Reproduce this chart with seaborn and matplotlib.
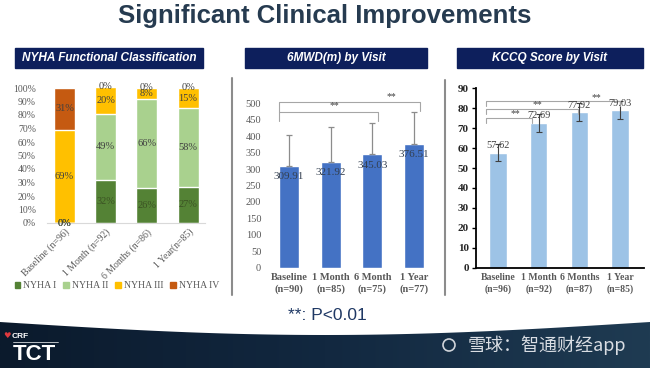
import numpy as np
import pandas as pd
import matplotlib
matplotlib.use('Agg')
import matplotlib.pyplot as plt
import seaborn as sns
from matplotlib.patches import Patch, Rectangle, Polygon, Circle
from matplotlib.colors import LinearSegmentedColormap

sns.set_theme(style='white')
plt.rcParams['font.family'] = ['Liberation Serif', 'DejaVu Serif']

# Dados - NYHA
nyha_visits = ['Baseline (n=96)', '1 Month (n=92)', '6 Months (n=86)', '1 Year(n=85)']
nyha_classes = ['NYHA I', 'NYHA II', 'NYHA III', 'NYHA IV']
nyha_I = [0, 32, 26, 27]
nyha_II = [0, 49, 66, 58]
nyha_III = [69, 20, 8, 15]
nyha_IV = [31, 0, 0, 0]
nyha_colors = ['#548235', '#A9D18E', '#FFC000', '#C55A11']

# Dados - 6MWD
mwd_visits = ['Baseline\n(n=90)', '1 Month\n(n=85)', '6 Month\n(n=75)', '1 Year\n(n=77)']
mwd_mean = [309.91, 321.92, 345.03, 376.51]
mwd_sd = [94, 105, 96, 98]

# Dados - KCCQ
kccq_visits = ['Baseline\n(n=96)', '1 Month\n(n=92)', '6 Months\n(n=87)', '1 Year\n(n=85)']
kccq_mean = [57.62, 72.69, 77.92, 79.03]
kccq_err = [4.3, 4.5, 4.5, 4.6]

W, H = 650, 368


def rect(l, t, r, b):
    return [l / W, 1 - b / H, (r - l) / W, (b - t) / H]


fig = plt.figure(figsize=(6.5, 3.68), dpi=100)

# fundo / decoração
bg = fig.add_axes([0, 0, 1, 1])
bg.set_xlim(0, W)
bg.set_ylim(H, 0)
bg.axis('off')

bg.text(325, 16, 'Significant Clinical Improvements', ha='center', va='center',
        fontsize=18.5, weight='bold', family='Liberation Sans', color='#263B50')

for (x0, x1, title) in [(15, 203, 'NYHA Functional Classification'),
                        (245, 427, '6MWD(m) by Visit'),
                        (457, 643, 'KCCQ Score by Visit')]:
    bg.add_patch(Rectangle((x0, 48), x1 - x0, 20, color='#0D1F5C'))
    bg.text((x0 + x1) / 2, 58, title, ha='center', va='center', color='white',
            fontsize=8.5, weight='bold', style='italic', family='Liberation Sans')

bg.plot([232, 232], [78, 295], color='#8C8C8C', lw=1.5)
bg.plot([445, 445], [80, 295], color='#8C8C8C', lw=1.5)

bg.text(327, 315, '**: P<0.01', ha='center', va='center', fontsize=12.5,
        family='Liberation Sans', color='#1F3864')

# rodapé
xs = np.linspace(0, W, 200)
top = 322 + 13 * np.sin(np.pi * xs / W)
poly = Polygon(np.column_stack([np.r_[xs, W, 0], np.r_[top, H, H]]),
               closed=True, facecolor='none', edgecolor='none')
bg.add_patch(poly)
grad = np.linspace(0, 1, 256).reshape(1, -1)
cmap = LinearSegmentedColormap.from_list('foot', ['#0B1A2C', '#122840', '#1F3B52'])
im = bg.imshow(grad, cmap=cmap, extent=[0, W, H, 318], aspect='auto')
im.set_clip_path(poly)
bg.set_xlim(0, W)
bg.set_ylim(H, 0)

bg.text(7, 336, '♥', color='#E0393E', fontsize=6, family='DejaVu Sans', ha='center', va='center')
bg.text(12, 336, 'CRF', color='white', fontsize=6, weight='bold', family='Liberation Sans', va='center')
bg.plot([13, 58], [341.5, 341.5], color='white', lw=0.5)
bg.text(13, 355, 'TCT', color='white', fontsize=16, weight='bold', family='Liberation Sans', va='center')

bg.add_patch(Circle((449, 345), 6, facecolor='none', edgecolor='#D0D4DA', lw=1.2))
bg.text(468, 345, '雪球：智通财经app', color='#D9DDE3', fontsize=13, va='center',
        family=['Noto Sans CJK SC', 'DejaVu Sans'])

# NYHA - barras empilhadas
nyha_df = pd.DataFrame({'visit': nyha_visits, 'NYHA I': nyha_I, 'NYHA II': nyha_II,
                        'NYHA III': nyha_III, 'NYHA IV': nyha_IV})
long_df = nyha_df.melt(id_vars='visit', var_name='cls', value_name='pct')
long_df['cum'] = long_df.groupby('visit', sort=False)['pct'].cumsum()

ax1 = fig.add_axes(rect(47, 88, 205, 223))
for cls, col in reversed(list(zip(nyha_classes, nyha_colors))):
    sub = long_df[long_df['cls'] == cls]
    sns.barplot(data=sub, x='visit', y='cum', order=nyha_visits, color=col,
                saturation=1, width=0.51, ax=ax1)
vis_idx = {v: i for i, v in enumerate(nyha_visits)}
for _, row in long_df.iterrows():
    tc = '#3B5323' if row['cls'] == 'NYHA I' else '#404040'
    ax1.text(vis_idx[row['visit']], row['cum'] - row['pct'] / 2, f"{row['pct']}%",
             ha='center', va='center', fontsize=7.5, color=tc)
ax1.set_xlim(-0.425, 3.41)
ax1.set_ylim(0, 100)
ax1.set_yticks(range(0, 101, 10))
ax1.set_yticklabels([f'{v}%' for v in range(0, 101, 10)])
ax1.set_xlabel('')
ax1.set_ylabel('')
ax1.tick_params(axis='y', length=0, labelsize=7, labelcolor='#595959', pad=8)
ax1.tick_params(axis='x', length=0, labelsize=7, labelcolor='#595959', pad=3)
plt.setp(ax1.get_xticklabels(), rotation=45, ha='right', rotation_mode='anchor')
for s in ['top', 'right', 'left']:
    ax1.spines[s].set_visible(False)
ax1.spines['bottom'].set_color('#D9D9D9')
ax1.spines['bottom'].set_linewidth(0.8)
ax1.set_facecolor('none')

handles = [Patch(color=c) for c in nyha_colors]
fig.legend(handles, nyha_classes, loc='center', bbox_to_anchor=(117 / W, 1 - 286 / H),
           ncol=4, frameon=False, fontsize=7, handlelength=0.6, handleheight=0.6,
           handletextpad=0.3, columnspacing=0.7, labelcolor='#595959')


def bracket(ax, x0, x1, y, yl, yr, color):
    ax.plot([x0, x0, x1, x1], [yl, y, y, yr], color=color, lw=0.8, clip_on=False)


# 6MWD
ax2 = fig.add_axes(rect(264, 93.4, 439, 267.7))
sns.barplot(x=mwd_visits, y=mwd_mean, color='#4472C4', saturation=1, width=0.48, ax=ax2)
ax2.errorbar(range(len(mwd_mean)), mwd_mean, yerr=[np.zeros(len(mwd_sd)), mwd_sd],
             fmt='none', ecolor='#8C8C8C', elinewidth=0.9, capsize=2, capthick=0.9)
for i, v in enumerate(mwd_mean):
    ax2.text(i, v - 33, f'{v:.2f}', ha='center', va='center', fontsize=8, color='#333F50')
bracket(ax2, -0.23, 2.13, 473, 446, 446, '#A6A6A6')
bracket(ax2, -0.23, 3.14, 505, 473, 477, '#A6A6A6')
ax2.text(1.1, 492, '**', ha='center', va='center', fontsize=7, color='#404040')
ax2.text(2.46, 520, '**', ha='center', va='center', fontsize=7, color='#404040')
ax2.set_xlim(-0.6, 3.6)
ax2.set_ylim(0, 530)
ax2.set_yticks(range(0, 501, 50))
ax2.tick_params(axis='y', length=0, labelsize=7.5, labelcolor='#595959', pad=2)
ax2.tick_params(axis='x', length=0, labelsize=7.5, labelcolor='#595959', pad=4)
plt.setp(ax2.get_xticklabels(), weight='bold', linespacing=1.3)
for s in ax2.spines.values():
    s.set_visible(False)
ax2.set_facecolor('none')

# KCCQ
ax3 = fig.add_axes(rect(475.7, 88.3, 644, 267.7))
sns.barplot(x=kccq_visits, y=kccq_mean, color='#9DC3E6', saturation=1, width=0.43, ax=ax3)
ax3.errorbar(range(len(kccq_mean)), kccq_mean, yerr=kccq_err, fmt='none',
             ecolor='#404040', elinewidth=0.8, capsize=2.5, capthick=0.8)
for i, v in enumerate(kccq_mean):
    ax3.text(i, v + 3.5, f'{v:.2f}', ha='center', va='center', fontsize=7.5, color='#404040')
bracket(ax3, -0.3, 0.83, 75.3, 72.8, 72.8, '#A6A6A6')
bracket(ax3, -0.3, 1.97, 79.5, 77.0, 77.0, '#A6A6A6')
bracket(ax3, -0.3, 3.0, 83.6, 81.1, 81.1, '#A6A6A6')
ax3.text(0.42, 77.2, '**', ha='center', va='center', fontsize=7, color='#404040')
ax3.text(0.98, 81.6, '**', ha='center', va='center', fontsize=7, color='#404040')
ax3.text(2.43, 85.5, '**', ha='center', va='center', fontsize=7, color='#404040')
ax3.set_xlim(-0.548, 3.59)
ax3.set_ylim(0, 90)
ax3.set_yticks(range(0, 91, 10))
ax3.tick_params(axis='y', direction='out', length=3, width=1, left=True, color='black',
                labelsize=8, labelcolor='#262626', pad=2)
ax3.tick_params(axis='x', length=0, labelsize=7, labelcolor='#595959', pad=4)
plt.setp(ax3.get_yticklabels(), weight='bold')
plt.setp(ax3.get_xticklabels(), weight='bold', linespacing=1.3)
for s in ['top', 'right']:
    ax3.spines[s].set_visible(False)
for s in ['left', 'bottom']:
    ax3.spines[s].set_color('black')
    ax3.spines[s].set_linewidth(1.3)
ax3.set_facecolor('none')

plt.savefig('out.png', dpi=100)
plt.close()
